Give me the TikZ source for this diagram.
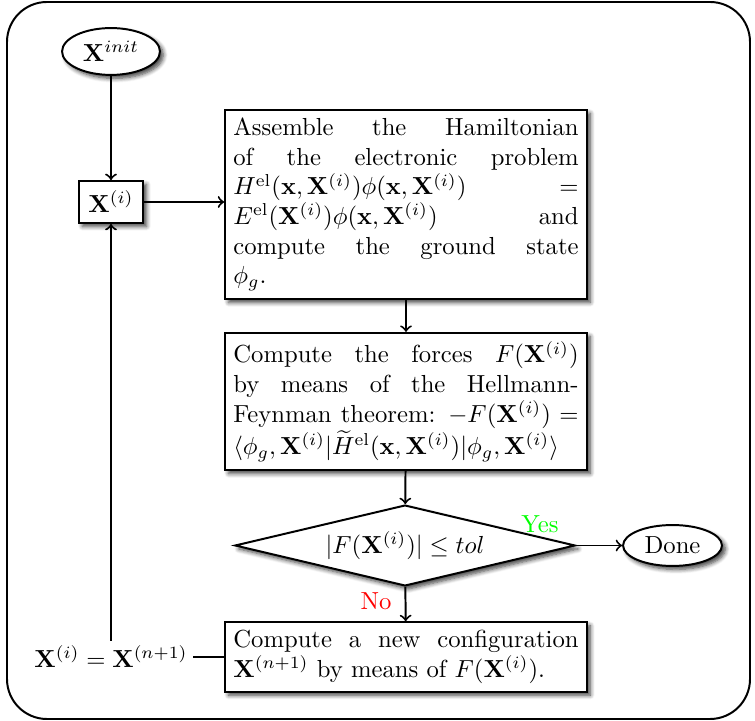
\documentclass[tikz,border=0pt]{standalone}
\usepackage{amsmath,amssymb}
\usetikzlibrary{shapes.geometric,shadows.blur}
\tikzset{
  shad/.style={blur shadow={shadow blur steps=6,shadow xshift=1.4pt,shadow yshift=-1.4pt,shadow opacity=75}},
  procbox/.style={draw,thick,fill=white,rectangle,text width=140pt,inner sep=3.33pt,align=justify,execute at begin node={\hyphenpenalty=10000\relax},shad},
  termnode/.style={draw,thick,fill=white,ellipse,inner sep=0pt,shad},
  smallbox/.style={draw,thick,fill=white,rectangle,inner sep=0pt,minimum width=26pt,minimum height=17pt,shad},
  decision/.style={draw,thick,fill=white,diamond,aspect=4,inner sep=0pt,minimum width=138pt,minimum height=32.8pt,shad},
  conn/.style={thick,->},
  plainconn/.style={thick},
}
\begin{document}
\begin{tikzpicture}[x=0.4055pt,y=-0.4055pt]
\useasboundingbox (0,0) rectangle (755,721);
\draw[thick,rounded corners=16.2pt] (7,2) rectangle (750,719);
\node[termnode,minimum width=39.7pt,minimum height=19pt] (init) at (111,51.5) {$\mathbf{X}^{init}$};
\node[smallbox] (xi) at (111,202) {$\mathbf{X}^{(i)}$};
\node[procbox] (b1) at (406,204.5) {Assemble the Hamiltonian of the electronic problem $H^{\text{el}}(\mathbf{x},\mathbf{X}^{(i)})\phi(\mathbf{x},\mathbf{X}^{(i)}) = E^{\text{el}}(\mathbf{X}^{(i)})\phi(\mathbf{x},\mathbf{X}^{(i)})$ and compute the ground state $\phi_g$.};
\node[procbox] (b2) at (406,401.5) {Compute the forces $F(\mathbf{X}^{(i)})$ by means of the Hellmann-Feynman theorem: $-F(\mathbf{X}^{(i)}) = \langle\phi_g,\mathbf{X}^{(i)}|\widetilde{H}^{\text{el}}(\mathbf{x},\mathbf{X}^{(i)})|\phi_g,\mathbf{X}^{(i)}\rangle$};
\node[decision] (d) at (405,545.5) {$|F(\mathbf{X}^{(i)})| \leq tol$};
\node[termnode,minimum width=40.1pt,minimum height=16.6pt] (done) at (672.5,545.5) {Done};
\node[procbox] (b4) at (406,657) {Compute a new configuration $\mathbf{X}^{(n+1)}$ by means of $F(\mathbf{X}^{(i)})$.};
\node[inner sep=2pt] (upd) at (111,657) {$\mathbf{X}^{(i)} = \mathbf{X}^{(n+1)}$};
\draw[conn] (init) -- (xi);
\draw[conn] (xi.east) -- (xi.east -| b1.west);
\draw[conn] (b1) -- (b2);
\draw[conn] (b2) -- (d);
\draw[conn] (d) -- (done);
\draw[conn] (d) -- (b4);
\draw[plainconn] (b4) -- (upd);
\draw[conn] (upd) -- (xi);
\node[text=green] (yes) at (540,524) {Yes};
\node[text=red] (no) at (376,601) {No};
\end{tikzpicture}
\end{document}
